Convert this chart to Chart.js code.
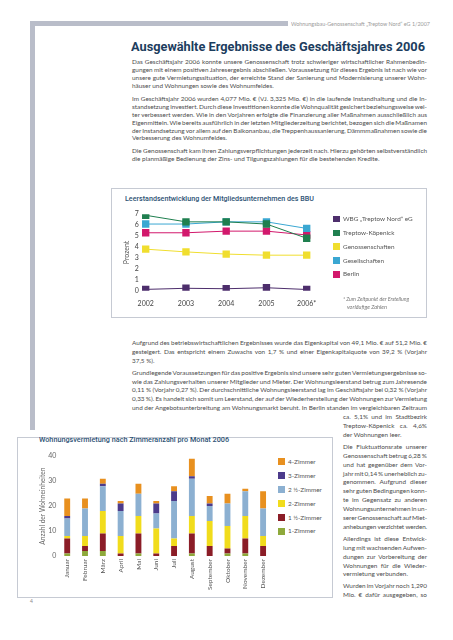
<!DOCTYPE html>
<html lang="de">
<head>
<meta charset="utf-8">
<script src="https://cdn.jsdelivr.net/npm/chart.js@4.4.1/dist/chart.umd.min.js"></script>
<style>
  html, body { margin: 0; padding: 0; background: #fff; }
  body { width: 453px; height: 640px; position: relative; overflow: hidden; font-family: Lato, "Open Sans", sans-serif; }
  .abs { position: absolute; }
  .ln { position: absolute; white-space: nowrap; font-size: 6.4px; color: #4c4c4c; }
  .fit { position: absolute; white-space: nowrap; transform-origin: 0 50%; }
  .box { position: absolute; border: 1px solid #c6cad3; box-sizing: border-box; }
  .leg { position: absolute; white-space: nowrap; font-size: 6.4px; color: #555; }
  .leg i { position: absolute; left: 0; top: 50%; width: 6.5px; height: 6.5px; margin-top: -3.25px; }
</style>
</head>
<body>

<!-- grauer Seitenrahmen -->
<div class="abs" style="left:30px;top:21px;width:258px;height:5px;background:#b9bdc9"></div>
<div class="abs" style="left:30px;top:21px;width:5px;height:409px;background:#b9bdc9"></div>
<div class="fit" id="kopf" data-w="139" style="left:291px;top:21px;font-size:5.2px;color:#9a9a9a;line-height:7px">Wohnungsbau-Genossenschaft „Treptow Nord“ eG 1/2007</div>

<div class="fit" id="titel" data-w="294" style="left:131px;top:37px;font-family:Roboto,sans-serif;font-weight:bold;font-size:13.5px;line-height:18px;color:#1c3d5e">Ausgewählte Ergebnisse des Geschäftsjahres 2006</div>

<div id="text"></div>

<!-- Diagramm 1 -->
<div class="box" style="left:111px;top:188px;width:316px;height:130px"></div>
<div class="fit" data-w="189" style="left:125px;top:194px;font-family:Roboto,sans-serif;font-weight:500;font-size:7.2px;line-height:10px;color:#2d5274">Leerstandsentwicklung der Mitgliedsunternehmen des BBU</div>
<div class="abs" style="left:113px;top:203px;width:312px;height:110px"><canvas id="graficoLeerstand"></canvas></div>
<div id="legende1"></div>
<div class="fit" data-w="66" style="left:343px;top:296px;font-size:5px;font-style:italic;color:#777;line-height:7px">* Zum Zeitpunkt der Erstellung</div>
<div class="fit" data-w="40" style="left:347px;top:304px;font-size:5px;font-style:italic;color:#777;line-height:7px">vorläufige Zahlen</div>

<!-- Diagramm 2 -->
<div class="box" style="left:17px;top:437px;width:316px;height:161px"></div>
<div class="fit" data-w="190" style="left:39px;top:435px;font-family:Roboto,sans-serif;font-weight:500;font-size:7.2px;line-height:10px;color:#2d5274">Wohnungsvermietung nach Zimmeranzahl pro Monat 2006</div>
<div class="abs" style="left:20px;top:450px;width:255px;height:142px"><canvas id="graficoVermietung"></canvas></div>
<div id="legende2"></div>

<div class="abs" style="left:30px;top:598px;font-size:5px;color:#888">4</div>

<script>
// ---- Daten Diagramm 1: Leerstand in Prozent ----
const jahre = ['2002', '2003', '2004', '2005', '2006*'];
const leerWbg = [0.12, 0.22, 0.18, 0.27, 0.11];
const leerTreptowKoepenick = [6.9, 6.3, 6.3, 6.1, 4.8];
const leerGenossenschaften = [3.8, 3.55, 3.35, 3.25, 3.25];
const leerGesellschaften = [6.1, 6.1, 6.3, 6.3, 5.7];
const leerBerlin = [5.3, 5.3, 5.45, 5.45, 5.1];
const prozentTicks = [0, 1, 2, 3, 4, 5, 6, 7];

// ---- Daten Diagramm 2: Vermietungen nach Zimmeranzahl ----
const monate = ['Januar', 'Februar', 'März', 'April', 'Mai', 'Juni', 'Juli', 'August', 'September', 'Oktober', 'November', 'Dezember'];
const zimmer1 = [1, 2, 2, 0, 1, 0, 0, 1, 0, 1, 1, 0];
const zimmer1h = [6, 2, 7, 1, 8, 1, 4, 8, 4, 2, 6, 4];
const zimmer2 = [1, 4, 9, 7, 7, 10, 3, 7, 10, 9, 9, 4];
const zimmer2h = [7, 11, 10, 10, 9, 6, 15, 15, 6, 9, 10, 11];
const zimmer3 = [1, 0, 1, 3, 0, 4, 4, 1, 1, 0, 0, 0];
const zimmer4 = [7, 4, 2, 1, 4, 1, 2, 7, 3, 4, 1, 7];
const anzahlTicks = [0, 10, 20, 30, 40];

// ---- Fließtext ----
const absatz1 = [
  'Das Geschäftsjahr 2006 konnte unsere Genossenschaft trotz schwieriger wirtschaftlicher Rahmenbedin-',
  'gungen mit einem positiven Jahresergebnis abschließen. Voraussetzung für dieses Ergebnis ist nach wie vor',
  'unsere gute Vermietungssituation, der erreichte Stand der Sanierung und Modernisierung unserer Wohn-',
  'häuser und Wohnungen sowie des Wohnumfeldes.'
];
const absatz2 = [
  'Im Geschäftsjahr 2006 wurden 4,077 Mio. € (VJ. 3,325 Mio. €) in die laufende Instandhaltung und die In-',
  'standsetzung investiert. Durch diese Investitionen konnte die Wohnqualität gesichert beziehungsweise wei-',
  'ter verbessert werden. Wie in den Vorjahren erfolgte die Finanzierung aller Maßnahmen ausschließlich aus',
  'Eigenmitteln. Wie bereits ausführlich in der letzten Mitgliederzeitung berichtet, bezogen sich die Maßnamen',
  'der Instandsetzung vor allem auf den Balkonanbau, die Treppenhaussanierung, Dämmmaßnahmen sowie die',
  'Verbesserung des Wohnumfeldes.'
];
const absatz3 = [
  'Die Genossenschaft kam ihren Zahlungsverpflichtungen jederzeit nach. Hierzu gehörten selbstverständlich',
  'die planmäßige Bedienung der Zins- und Tilgungszahlungen für die bestehenden Kredite.'
];
const absatz4 = [
  'Aufgrund des betriebswirtschaftlichen Ergebnisses wurde das Eigenkapital von 49,1 Mio. € auf 51,2 Mio. €',
  'gesteigert. Das entspricht einem Zuwachs von 1,7 % und einer Eigenkapitalquote von 39,2 % (Vorjahr',
  '37,5 %).'
];
const absatz5 = [
  'Grundlegende Voraussetzungen für das positive Ergebnis sind unsere sehr guten Vermietungsergebnisse so-',
  'wie das Zahlungsverhalten unserer Mitglieder und Mieter. Der Wohnungsleerstand betrug zum Jahresende',
  '0,11 % (Vorjahr 0,27 %). Der durchschnittliche Wohnungsleerstand lag im Geschäftsjahr bei 0,32 % (Vorjahr',
  '0,33 %). Es handelt sich somit um Leerstand, der auf der Wiederherstellung der Wohnungen zur Vermietung',
  'und der Angebotsunterbreitung am Wohnungsmarkt beruht. In Berlin standen im vergleichbaren Zeitraum'
];
const absatz5schmal = [
  'ca. 5,1% und im Stadtbezirk',
  'Treptow-Köpenick ca. 4,6%',
  'der Wohnungen leer.'
];
const absatz6 = [
  'Die Fluktuationsrate unserer',
  'Genossenschaft betrug 6,28 %',
  'und hat gegenüber dem Vor-',
  'jahr mit 0,14 % unerheblich zu-',
  'genommen. Aufgrund dieser',
  'sehr guten Bedingungen konn-',
  'te im Gegensatz zu anderen',
  'Wohnungsunternehmen in un-',
  'serer Genossenschaft auf Miet-',
  'anhebungen verzichtet werden.'
];
const absatz7 = [
  'Allerdings ist diese Entwick-',
  'lung mit wachsenden Aufwen-',
  'dungen zur Vorbereitung der',
  'Wohnungen für die Wieder-',
  'vermietung verbunden.'
];
const absatz8 = [
  'Wurden im Vorjahr noch 1,290',
  'Mio. € dafür ausgegeben, so'
];

const textBox = document.getElementById('text');

// setzt Zeilen einzeln und füllt sie per Wortabstand auf Blocksatz
function zeilen(lines, x, top, w, lh, lastJust) {
  lines.forEach((t, i) => {
    const d = document.createElement('div');
    d.className = 'ln';
    d.style.left = x + 'px';
    d.style.top = top + 'px';
    d.style.lineHeight = lh + 'px';
    const s = document.createElement('span');
    s.textContent = t;
    d.appendChild(s);
    textBox.appendChild(d);
    const nat = s.getBoundingClientRect().width;
    const gaps = (t.match(/ /g) || []).length;
    const just = i < lines.length - 1 || lastJust;
    if (just && gaps) {
      let ws = (w - nat) / gaps;
      if (ws < -0.6) {
        const ls = ((w - nat) - (-0.6 * gaps)) / t.length;
        d.style.letterSpacing = ls + 'px';
        ws = -0.6;
      }
      d.style.wordSpacing = ws + 'px';
    } else if (nat > w) {
      d.style.letterSpacing = ((w - nat) / t.length) + 'px';
    }
    top += lh;
  });
  return top;
}

let y = 58.3;
y = zeilen(absatz1, 132, y, 295, 7.95, false) + 4.6;
y = zeilen(absatz2, 132, y, 295, 7.95, false) + 4.6;
zeilen(absatz3, 132, y, 295, 7.95, false);

y = 338.9;
y = zeilen(absatz4, 132, y, 295, 8.9, false) + 3;
y = zeilen(absatz5, 132, y, 295, 8.9, true);
y = zeilen(absatz5schmal, 343, y, 84, 8.9, false) + 3;
y = zeilen(absatz6, 343, y, 84, 8.9, false) + 3;
y = zeilen(absatz7, 343, y, 84, 8.9, false) + 3;
zeilen(absatz8, 343, y, 84, 8.9, true);

// einzeilige Texte auf Breite bringen
document.querySelectorAll('.fit').forEach(el => {
  const w = parseFloat(el.dataset.w);
  el.style.transform = 'scaleX(' + (w / el.getBoundingClientRect().width) + ')';
});

Chart.defaults.font.family = 'Lato, sans-serif';
Chart.defaults.animation = false;

// HTML-Legende aus den Datensätzen der Grafik
function legende(chart, id, x, y0, dy, reverse) {
  const cont = document.getElementById(id);
  let ds = chart.data.datasets.slice();
  if (reverse) ds.reverse();
  ds.forEach((d, i) => {
    const row = document.createElement('div');
    row.className = 'leg';
    row.style.left = x + 'px';
    row.style.top = (y0 + i * dy - 5) + 'px';
    row.style.height = '10px';
    row.style.lineHeight = '10px';
    row.style.paddingLeft = '10px';
    row.innerHTML = '<i style="background:' + d.backgroundColor + '"></i>';
    row.appendChild(document.createTextNode(d.label));
    cont.appendChild(row);
  });
}

const farben1 = ['#4d2e6c', '#1f7f4f', '#f0de2e', '#3aa7d2', '#d2186c'];

function linie(label, data, c) {
  return {
    label: label,
    data: data,
    borderColor: c,
    backgroundColor: c,
    borderWidth: 1,
    pointStyle: 'rect',
    pointRadius: 5.2,
    pointBorderWidth: 0,
    pointBackgroundColor: c
  };
}

const chart1 = new Chart(document.getElementById('graficoLeerstand'), {
  type: 'line',
  data: {
    labels: jahre,
    datasets: [
      linie('WBG „Treptow Nord“ eG', leerWbg, farben1[0]),
      linie('Treptow-Köpenick', leerTreptowKoepenick, farben1[1]),
      linie('Genossenschaften', leerGenossenschaften, farben1[2]),
      linie('Gesellschaften', leerGesellschaften, farben1[3]),
      linie('Berlin', leerBerlin, farben1[4])
    ]
  },
  options: {
    responsive: true,
    maintainAspectRatio: false,
    layout: { padding: { left: 0, top: 8.7, right: 118.3, bottom: 0 } },
    plugins: { legend: { display: false }, tooltip: { enabled: false } },
    scales: {
      x: {
        grid: { display: false, drawTicks: false },
        border: { display: false },
        ticks: { color: '#444', font: { size: 7 }, padding: 9, maxRotation: 0 },
        afterFit: s => { s.height = 22.3; }
      },
      y: {
        min: 0,
        max: 7,
        grid: { display: false, drawTicks: false },
        border: { display: false },
        afterBuildTicks: s => { s.ticks = prozentTicks.map(v => ({ value: v })); },
        ticks: { color: '#444', font: { size: 7 }, padding: 7, autoSkip: false },
        title: { display: true, text: 'Prozent', color: '#555', font: { size: 7 }, padding: { top: 9.5, bottom: 0 } },
        afterFit: s => { s.width = 32.7; }
      }
    }
  }
});
legende(chart1, 'legende1', 333, 219, 13.85, false);

const farben2 = {
  z1: '#8ea93b',
  z1h: '#8b1d27',
  z2: '#f1dc1c',
  z2h: '#8cb0d1',
  z3: '#4c3b8b',
  z4: '#e8901f'
};

function stapel(label, data, c) {
  return { label: label, data: data, backgroundColor: c, barPercentage: 0.33, categoryPercentage: 1 };
}

const chart2 = new Chart(document.getElementById('graficoVermietung'), {
  type: 'bar',
  data: {
    labels: monate,
    datasets: [
      stapel('1-Zimmer', zimmer1, farben2.z1),
      stapel('1 ½-Zimmer', zimmer1h, farben2.z1h),
      stapel('2-Zimmer', zimmer2, farben2.z2),
      stapel('2 ½-Zimmer', zimmer2h, farben2.z2h),
      stapel('3-Zimmer', zimmer3, farben2.z3),
      stapel('4-Zimmer', zimmer4, farben2.z4)
    ]
  },
  options: {
    responsive: true,
    maintainAspectRatio: false,
    layout: { padding: { left: 0, top: 6, right: 3, bottom: 0 } },
    plugins: { legend: { display: false }, tooltip: { enabled: false } },
    scales: {
      x: {
        stacked: true,
        grid: { display: false, drawTicks: false },
        border: { display: false },
        ticks: { color: '#555', font: { size: 6.5 }, padding: 3, minRotation: 90, maxRotation: 90, autoSkip: false },
        afterFit: s => { s.height = 36; }
      },
      y: {
        stacked: true,
        min: 0,
        max: 40,
        grid: { display: false, drawTicks: false },
        border: { display: false },
        afterBuildTicks: s => { s.ticks = anzahlTicks.map(v => ({ value: v })); },
        ticks: { color: '#666', font: { size: 7 }, padding: 2, autoSkip: false },
        title: { display: true, text: 'Anzahl der Wohneinheiten', color: '#666', font: { size: 6.6 }, padding: { top: 18.5, bottom: 0 } },
        afterFit: s => { s.width = 38.3; }
      }
    }
  }
});
legende(chart2, 'legende2', 278, 461.7, 13.95, true);
</script>
</body>
</html>
